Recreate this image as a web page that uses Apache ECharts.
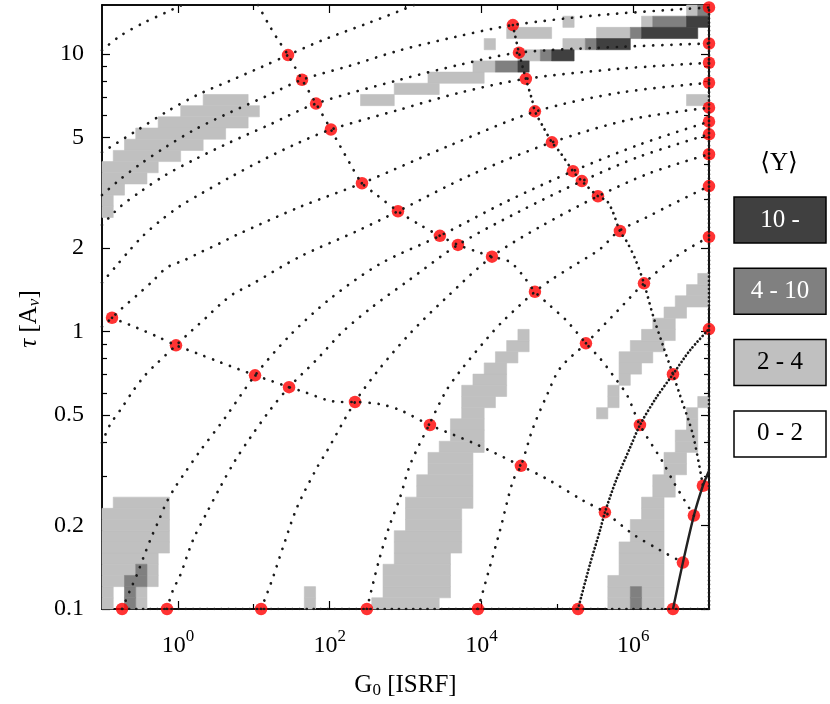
<!DOCTYPE html>
<html>
<head>
<meta charset="utf-8">
<script src="https://cdn.jsdelivr.net/npm/echarts@6/dist/echarts.min.js"></script>
<style>
  html, body { margin: 0; padding: 0; background: #fff; }
  #chart { width: 830px; height: 704px; }
</style>
</head>
<body>
<div id="chart"></div>
<script>
var FONT = 'Liberation Serif';

// axis ticks
var xMajorTicks = [1, 100, 1e4, 1e6];
var xMinorTicks = [10, 1e3, 1e5];
var yMajorTicks = [0.1, 0.2, 0.5, 1, 2, 5, 10];
var yMinorTicks = [0.3, 0.4, 0.6, 0.7, 0.8, 0.9, 3, 4, 6, 7, 8, 9];

// heat map grid (54 x 54 cells over the plot range)
var gridCols = 54, gridRows = 54;
var g0Range = [0.1, 1e7];
var tauRange = [0.1, 15];

// cells as runs: [row, firstCol, lastCol]
var lightCells = [
  [0,0,0],[0,3,3],[1,0,0],[1,3,3],[2,0,1],[2,4,4],[3,0,2],[3,4,4],[4,0,4],
  [5,0,5],[6,0,5],[7,0,5],[8,0,5],[9,1,5],[0,18,18],[1,18,18],
  [0,24,29],[1,25,30],[2,25,30],[3,25,30],[4,26,30],[5,26,31],[6,26,31],[7,27,31],[8,27,31],
  [9,27,32],[10,28,32],[11,28,32],[12,29,32],[13,29,32],[14,30,33],[15,31,33],[16,31,33],
  [17,32,33],[18,32,34],[19,32,35],[20,33,35],[21,34,35],[22,35,36],[23,36,37],[24,37,37],
  [0,45,46],[0,48,49],[1,45,46],[1,48,49],[2,45,49],[3,46,49],[4,46,49],[5,46,49],[6,47,49],
  [7,47,49],[8,48,49],[9,48,49],[10,49,50],[11,49,50],[12,50,51],[13,50,51],[14,51,52],
  [15,51,52],[16,52,52],[17,52,52],[17,44,44],[18,53,53],[18,45,45],[19,45,45],[20,46,46],
  [21,46,47],[22,46,48],[23,47,49],[24,48,50],[25,49,50],[26,50,51],[27,51,53],[28,52,53],[29,53,53],
  [35,0,0],[36,0,0],[37,0,1],[38,0,3],[39,0,4],[40,1,6],[41,2,8],[42,3,10],[43,5,12],[44,7,13],[45,9,12],
  [45,23,25],[45,52,53],[46,26,29],[47,29,33],[48,33,34],[49,37,38],[50,34,34],[50,41,42],
  [51,36,39],[51,44,46],[52,41,41],[52,48,48],[53,52,52]
];
var mediumCells = [
  [0,2,2],[1,2,2],[2,2,3],[3,3,3],[0,47,47],[1,47,47],
  [48,35,36],[49,39,39],[50,43,43],[51,47,47],[52,49,51],[53,53,53]
];
var darkCells = [[48,37,37],[49,40,41],[50,44,46],[51,48,52],[52,52,53]];

// curves: [G0, tau]
var curveTop = [[0.1,10.3],[0.173,11.6],[0.347,12.9],[0.698,14.1],[1.13,15.0]];
var curveA0 = [[0.1,4.42],[0.289,5.30],[0.719,6.20],[1.84,7.13],[4.86,8.00],[12.8,8.98],[28.3,9.9],[86.9,11.3],[320,12.9],[845,14.3],[1295,15.0]];
var curveA1 = [[0.1,3.10],[0.173,3.53],[0.317,4.00],[0.677,4.60],[1.68,5.34],[4.86,6.15],[14.1,7.01],[43.3,8.07],[185,9.06],[845,10.3],[4490,11.5],[26000,12.7],[3.66e5,13.8],[1e7,14.7]];
var curveA2 = [[0.1,2.42],[0.173,2.81],[0.317,3.18],[0.677,3.65],[1.68,4.17],[4.86,4.80],[16.4,5.57],[66.2,6.62],[845,8.07],[5230,9.14],[31300,10.1],[6.70e5,10.6],[1e7,10.9]];
var curveA3 = [[0.1,1.50],[0.148,1.70],[0.227,1.95],[0.347,2.21],[0.581,2.50],[1.07,2.83],[1.96,3.12],[4.86,3.59],[12.1,4.10],[35.0,4.72],[104,5.34],[845,6.30],[5230,7.25],[38600,8.13],[6.70e5,8.84],[1e7,9.29]];
var curveA4 = [[0.1,1.04],[0.1355,1.12],[0.182,1.21],[0.289,1.35],[0.456,1.51],[0.719,1.70],[1.24,1.81],[2.08,1.94],[3.48,2.07],[6.01,2.23],[40.7,2.81],[267,3.42],[3850,4.68],[50800,6.19],[6.70e5,7.25],[1e7,7.87]];
var curveA5 = [[0.1,0.397],[0.127,0.460],[0.182,0.530],[0.256,0.610],[0.369,0.695],[0.547,0.774],[0.945,0.891],[1.54,1.01],[2.35,1.12],[3.59,1.25],[5.49,1.37],[8.65,1.46],[40.7,1.86],[230,2.30],[796,2.71],[7060,3.65],[85100,4.80],[9.10e5,5.80],[1e7,6.40]];
var curveA6 = [[0.184,0.1],[0.232,0.116],[0.289,0.133],[0.357,0.155],[0.442,0.180],[0.558,0.208],[0.697,0.240],[0.916,0.274],[1.24,0.310],[1.96,0.371],[4.18,0.488],[10.4,0.695],[30.0,0.968],[101,1.31],[460,1.75],[2840,2.21],[2.05e4,2.92],[1.61e5,3.78],[1.23e6,4.72],[1e7,5.70]];
var curveA7 = [[0.719,0.1],[0.862,0.117],[1.07,0.132],[1.58,0.177],[2.42,0.223],[3.59,0.274],[5.66,0.342],[8.93,0.413],[16.4,0.521],[29.2,0.630],[66.2,0.787],[150,1.0],[372,1.23],[1040,1.51],[4910,2.05],[3.22e4,2.71],[2.11e5,3.48],[1.23e6,4.27],[1e7,5.13]];
var curveA8 = [[12.5,0.1],[17.4,0.127],[24.3,0.167],[37.1,0.232],[68.1,0.323],[92.3,0.371],[216,0.557],[460,0.737],[1150,0.984],[3310,1.31],[13800,1.86],[5.90e4,2.38],[3.44e5,3.07],[1.66e6,3.72],[1e7,4.35]];
var curveA9 = [[310,0.1],[372,0.123],[460,0.154],[625,0.202],[847,0.252],[1150,0.331],[2040,0.460],[3420,0.610],[5230,0.719],[11900,0.944],[19300,1.09],[50800,1.39],[87900,1.55],[1.61e5,1.72],[3.66e5,1.98],[6.50e5,2.30],[1.52e6,2.58],[2.79e6,2.81],[1e7,3.34]];
var curveA10 = [[9020,0.1],[1.76e4,0.192],[2.61e4,0.290],[3.32e4,0.328],[4.79e4,0.449],[7.32e4,0.590],[1.09e5,0.737],[2.39e5,0.906],[6.12e5,1.18],[1.39e6,1.49],[3.78e6,1.87],[1e7,2.19]];
var curveA11 = [[1.88e5,0.1],[2.70e5,0.145],[3.66e5,0.192],[4.25e5,0.223],[5.94e5,0.290],[9.10e5,0.381],[1.23e6,0.460],[2.00e6,0.575],[3.35e6,0.701],[5.61e6,0.855],[1e7,1.02]];
var curveA12 = [[3.35e6,0.1],[4.53e6,0.147],[6.32e6,0.217],[8.31e6,0.278],[1e7,0.315]];
var curveB1 = [[11.4,15.0],[15.4,12.9],[20.2,11.4],[28.3,9.9],[43.3,8.07],[66.2,6.62],[104,5.34],[185,4.03],[267,3.42],[407,3.12],[796,2.71],[1550,2.42],[2840,2.21],[4910,2.05],[8230,1.95],[13800,1.86],[23800,1.78],[35300,1.59],[50800,1.39],[80200,1.24],[1.34e5,1.09],[2.39e5,0.906],[3.66e5,0.800],[5.42e5,0.695],[8.30e5,0.590],[1.23e6,0.460],[2.40e6,0.342],[3.56e6,0.281],[6.32e6,0.217]];
var curveB2 = [[26000,12.7],[27700,11.7],[31300,10.1],[38600,8.13],[46500,6.84],[50800,6.21],[64900,5.47],[85100,4.80],[1.09e5,4.42],[1.61e5,3.78],[2.11e5,3.48],[3.44e5,3.07],[4.52e5,2.95],[5.42e5,2.69],[6.70e5,2.30],[8.30e5,2.10],[1.06e6,1.83],[1.39e6,1.49],[1.83e6,1.14],[2.47e6,0.891],[3.35e6,0.701],[4.14e6,0.590],[6.14e6,0.424],[8.31e6,0.278]];
var curveB3 = [[0.1355,1.12],[0.289,1.03],[0.531,0.959],[0.945,0.891],[1.79,0.834],[3.38,0.780],[10.4,0.695],[17.4,0.662],[29.2,0.630],[47.3,0.604],[92.3,0.566],[137,0.557],[216,0.557],[460,0.547],[845,0.521],[2100,0.460],[8230,0.394],[33200,0.328],[80200,0.290],[2.18e5,0.246],[4.25e5,0.223],[9.95e5,0.186],[2.26e6,0.163],[4.53e6,0.147]];
var edgeBottom = [[0.184,0.1],[1e7,0.1]];
var edgeRight = [[1e7,0.1],[1e7,14.7]];

var redDots = [
  [1e7,14.7],[1e7,10.9],[1e7,9.29],[1e7,7.87],[1e7,6.40],[1e7,5.70],[1e7,5.13],[1e7,4.35],[1e7,3.34],[1e7,2.19],[1e7,1.02],
  [28.3,9.9],[43.3,8.07],[66.2,6.62],[104,5.34],[267,3.42],[796,2.71],[2840,2.21],[4910,2.05],[13800,1.86],[50800,1.39],[2.39e5,0.906],[1.23e6,0.460],[6.32e6,0.217],
  [26000,12.7],[31300,10.1],[38600,8.13],[50800,6.21],[85100,4.80],[1.61e5,3.78],[2.11e5,3.48],[3.44e5,3.07],[6.70e5,2.30],[1.39e6,1.49],[3.35e6,0.701],[8.31e6,0.278],
  [0.1355,1.12],[0.945,0.891],[10.4,0.695],[29.2,0.630],[216,0.557],[2100,0.460],[33200,0.328],[4.25e5,0.223],[4.53e6,0.147],
  [0.184,0.1],[0.719,0.1],[12.5,0.1],[310,0.1],[9020,0.1],[1.88e5,0.1],[3.35e6,0.1]
];

var legendItems = [
  { label: '10 -', fill: '#404040', text: '#fff' },
  { label: '4 - 10', fill: '#808080', text: '#fff' },
  { label: '2 - 4', fill: '#c0c0c0', text: '#000' },
  { label: '0 - 2', fill: '#ffffff', text: '#000' }
];
var levelColors = ['#c0c0c0', '#808080', '#404040'];

function colEdge(i) {
  var a = Math.log10(g0Range[0]), b = Math.log10(g0Range[1]);
  return Math.pow(10, a + (b - a) * i / gridCols);
}
function rowEdge(j) {
  var a = Math.log10(tauRange[0]), b = Math.log10(tauRange[1]);
  return Math.pow(10, a + (b - a) * j / gridRows);
}
function buildCells(runs, level) {
  return runs.map(function (r) {
    return [colEdge(r[1]), colEdge(r[2] + 1), rowEdge(r[0]), rowEdge(r[0] + 1), level];
  });
}
var cellData = buildCells(lightCells, 0).concat(buildCells(mediumCells, 1), buildCells(darkCells, 2));

var chart = echarts.init(document.getElementById('chart'));

function dotted(data, gap) {
  return {
    type: 'line', data: data, showSymbol: false, smooth: 0.3, silent: true, z: 4,
    lineStyle: { color: '#1a1a1a', width: 2.7, type: [0.1, gap || 9], cap: 'round' }
  };
}

function xAxisDef(pos, ticks, len, labels) {
  return {
    type: 'log', min: 0.1, max: 1e7, position: pos,
    axisLine: { show: true, lineStyle: { color: '#000', width: 1.5 } },
    axisTick: { show: true, inside: true, length: len, customValues: ticks, lineStyle: { color: '#000', width: 1.2 } },
    axisLabel: labels ? {
      show: true, customValues: xMajorTicks, margin: 19,
      formatter: function (v) { return '{b|10}{s|' + Math.round(Math.log10(v)) + '}'; },
      rich: {
        b: { fontFamily: FONT, fontSize: 24, color: '#000', lineHeight: 30, verticalAlign: 'bottom' },
        s: { fontFamily: FONT, fontSize: 17, color: '#000', lineHeight: 16, verticalAlign: 'top' }
      }
    } : { show: false },
    splitLine: { show: false }
  };
}
function yAxisDef(pos, ticks, len, labels) {
  return {
    type: 'log', min: 0.1, max: 15, position: pos,
    axisLine: { show: true, lineStyle: { color: '#000', width: 1.5 } },
    axisTick: { show: true, inside: true, length: len, customValues: ticks, lineStyle: { color: '#000', width: 1.2 } },
    axisLabel: labels ? {
      show: true, customValues: yMajorTicks, margin: 18,
      fontFamily: FONT, fontSize: 24, color: '#000',
      formatter: function (v) { return String(v); }
    } : { show: false },
    splitLine: { show: false }
  };
}

var xAxes = [xAxisDef('bottom', xMajorTicks, 8, true), xAxisDef('bottom', xMinorTicks, 5, false),
             xAxisDef('top', xMajorTicks, 8, false), xAxisDef('top', xMinorTicks, 5, false)];
var yAxes = [yAxisDef('left', yMajorTicks, 8, true), yAxisDef('left', yMinorTicks, 5, false),
             yAxisDef('right', yMajorTicks, 8, false), yAxisDef('right', yMinorTicks, 5, false)];

xAxes[0].name = '{n|G}{s|0}{n| [ISRF]}';
xAxes[0].nameLocation = 'middle';
xAxes[0].nameGap = 64;
xAxes[0].nameTextStyle = {
  rich: {
    n: { fontFamily: FONT, fontSize: 25, color: '#000', lineHeight: 26, verticalAlign: 'top' },
    s: { fontFamily: FONT, fontSize: 17, color: '#000', lineHeight: 13, verticalAlign: 'bottom' }
  }
};
// trailing spacer token nudges the rotated title a little lower, as in the reference
yAxes[0].name = '{i|τ}{n| [A}{s|v}{n|]}{p|}';
yAxes[0].nameLocation = 'middle';
yAxes[0].nameGap = 56;
yAxes[0].nameRotate = 90;
yAxes[0].nameTextStyle = {
  rich: {
    i: { fontFamily: FONT, fontSize: 25, fontStyle: 'italic', color: '#000', lineHeight: 26, verticalAlign: 'top' },
    n: { fontFamily: FONT, fontSize: 25, color: '#000', lineHeight: 26, verticalAlign: 'top' },
    s: { fontFamily: FONT, fontSize: 17, fontStyle: 'italic', color: '#000', lineHeight: 13, verticalAlign: 'bottom' },
    p: { width: 24, lineHeight: 26 }
  }
};

var graphics = [{
  type: 'text', x: 779, y: 163,
  style: { text: '⟨Y⟩', font: '25px "' + FONT + '", "DejaVu Serif"', fill: '#000', align: 'center', verticalAlign: 'middle' }
}];
legendItems.forEach(function (it, i) {
  var top = 197 + i * 71.3;
  graphics.push({
    type: 'rect', shape: { x: 734, y: top, width: 92, height: 46 },
    style: { fill: it.fill, stroke: '#000', lineWidth: 1.5 }
  });
  graphics.push({
    type: 'text', x: 780, y: top + 23,
    style: { text: it.label, font: '25px "' + FONT + '"', fill: it.text, align: 'center', verticalAlign: 'middle' }
  });
});

var option = {
  animation: false,
  backgroundColor: '#fff',
  grid: { left: 102, right: 121, top: 5, bottom: 92 },
  xAxis: xAxes,
  yAxis: yAxes,
  graphic: graphics,
  series: [
    {
      type: 'custom', data: cellData, silent: true, z: 1,
      encode: { x: [0, 1], y: [2, 3] },
      renderItem: function (params, api) {
        var p0 = api.coord([api.value(0), api.value(2)]);
        var p1 = api.coord([api.value(1), api.value(3)]);
        var c = levelColors[api.value(4)];
        return {
          type: 'rect',
          shape: { x: p0[0], y: p1[1], width: p1[0] - p0[0], height: p0[1] - p1[1] },
          style: { fill: c, stroke: c, lineWidth: 0.6 }
        };
      }
    },
    {
      type: 'scatter', data: redDots, symbolSize: 12.5, silent: true, z: 3,
      itemStyle: { color: '#ff0000' }
    },
    dotted(curveTop), dotted(curveA0), dotted(curveA1), dotted(curveA2), dotted(curveA3),
    dotted(curveA4), dotted(curveA5), dotted(curveA6), dotted(curveA7), dotted(curveA8),
    dotted(curveA9), dotted(curveA10), dotted(curveA11, 3.6),
    {
      type: 'line', data: curveA12, showSymbol: false, smooth: 0.3, silent: true, z: 4,
      lineStyle: { color: '#222', width: 2.4 }
    },
    dotted(curveB1), dotted(curveB2, 6), dotted(curveB3),
    dotted(edgeBottom, 7), dotted(edgeRight, 4)
  ]
};
chart.setOption(option);
</script>
</body>
</html>
